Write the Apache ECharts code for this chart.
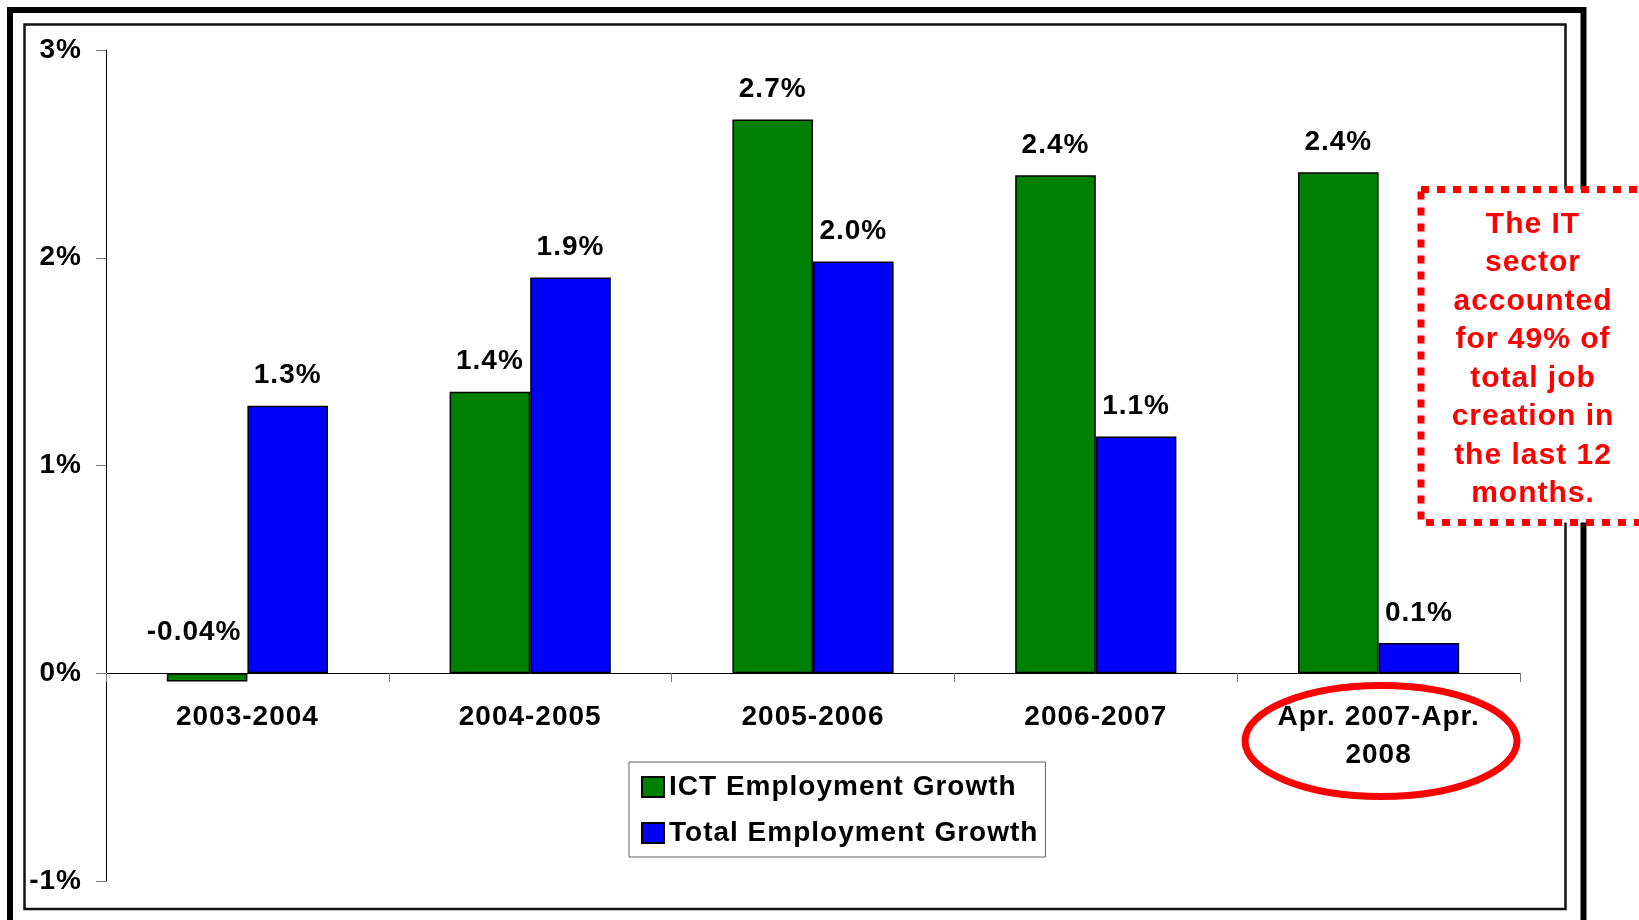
<!DOCTYPE html>
<html>
<head>
<meta charset="utf-8">
<script src="https://cdn.jsdelivr.net/npm/echarts@6/dist/echarts.min.js"></script>
<style>
  html, body { margin: 0; padding: 0; background: #fff; }
  #main { width: 1639px; height: 920px; }
</style>
</head>
<body>
<div id="main"></div>
<script>
var categories = ['2003-2004', '2004-2005', '2005-2006', '2006-2007', 'Apr. 2007-Apr.\n2008'];
var ictGrowth = [-0.04, 1.355, 2.665, 2.397, 2.411];
var totalGrowth = [1.288, 1.905, 1.982, 1.139, 0.146];
var ictLabels = ['-0.04%', '1.4%', '2.7%', '2.4%', '2.4%'];
var totalLabels = ['1.3%', '1.9%', '2.0%', '1.1%', '0.1%'];
var noteLines = ['The IT', 'sector', 'accounted', 'for 49% of', 'total job', 'creation in', 'the last 12', 'months.'];

var FONT = '"Liberation Sans", Arial, sans-serif';

// 原图文字有一点字间距
(function () {
    var proto = CanvasRenderingContext2D.prototype;
    var fillText = proto.fillText;
    proto.fillText = function () {
        if ('letterSpacing' in this) { this.letterSpacing = '1px'; }
        return fillText.apply(this, arguments);
    };
})();

var myChart = echarts.init(document.getElementById('main'));

// 柱子数据，带标签文字
function barData(values, labels) {
    return values.map(function (v, i) {
        var item = { value: v, labelText: labels[i] };
        if (v < 0) {
            // 负值标签放在零线上方
            item.label = { position: 'insideBottom', offset: [-13, -19] };
        }
        return item;
    });
}

var barLabel = {
    show: true,
    position: 'top',
    distance: 16,
    color: '#000',
    fontFamily: FONT,
    fontWeight: 'bold',
    fontSize: 28,
    formatter: function (p) { return p.data.labelText; }
};

myChart.setOption({
    backgroundColor: '#fff',
    animation: false,
    grid: { left: 106, right: 119, top: 50, bottom: 39, containLabel: false, outerBoundsMode: 'none' },
    legend: {
        orient: 'vertical',
        left: 629,
        top: 762,
        backgroundColor: '#fff',
        borderColor: '#606060',
        borderWidth: 1,
        padding: [10, 30, 9, 12],
        itemWidth: 22,
        itemHeight: 20,
        itemGap: 16,
        icon: 'rect',
        textStyle: { fontFamily: FONT, fontWeight: 'bold', fontSize: 28, color: '#000', lineHeight: 30 },
        data: ['ICT Employment Growth', 'Total Employment Growth']
    },
    xAxis: {
        type: 'category',
        data: categories,
        // 把x轴整体移到0%的位置
        offset: -208,
        axisLine: { onZero: false, lineStyle: { color: '#000', width: 1 } },
        axisTick: { show: true, length: 9, lineStyle: { color: '#777' } },
        axisLabel: {
            margin: 25, color: '#000', fontFamily: FONT, fontWeight: 'bold',
            fontSize: 28, lineHeight: 38, interval: 0
        }
    },
    yAxis: {
        type: 'value',
        min: -1,
        max: 3,
        interval: 1,
        splitLine: { show: false },
        axisLine: { show: true, lineStyle: { color: '#000', width: 1 } },
        axisTick: { show: true, length: 10, lineStyle: { color: '#777' } },
        axisLabel: {
            margin: 24, color: '#000', fontFamily: FONT, fontWeight: 'bold', fontSize: 28,
            formatter: '{value}%'
        }
    },
    series: [{
        name: 'ICT Employment Growth',
        type: 'bar',
        barGap: '0%',
        barCategoryGap: '43%',
        itemStyle: { color: '#008000', borderColor: '#000', borderWidth: 1.5 },
        label: barLabel,
        data: barData(ictGrowth, ictLabels)
    }, {
        name: 'Total Employment Growth',
        type: 'bar',
        itemStyle: { color: '#0000ff', borderColor: '#000', borderWidth: 1.5 },
        label: barLabel,
        data: barData(totalGrowth, totalLabels)
    }],
    graphic: [
        // 外框和内框
        { type: 'rect', z: 100, silent: true, shape: { x: 10, y: 10, width: 1573.5, height: 930 },
          style: { fill: 'none', stroke: '#000', lineWidth: 6 } },
        { type: 'rect', z: 100, silent: true, shape: { x: 24.5, y: 24.5, width: 1541, height: 884.5 },
          style: { fill: 'none', stroke: '#111', lineWidth: 2.5 } },
        // 红色虚线说明框
        { type: 'rect', z: 110, silent: true, shape: { x: 1421, y: 189.5, width: 224, height: 333 },
          style: { fill: '#fff', stroke: '#ff0000', lineWidth: 7, lineDash: [8, 8] } },
        { type: 'text', z: 111, silent: true, x: 1533, y: 359,
          style: { text: noteLines.join('\n'), fill: '#ff0000', font: 'bold 30px ' + FONT,
                   lineHeight: 38.5, align: 'center', verticalAlign: 'middle' } },
        // 红圈
        { type: 'ellipse', z: 110, silent: true, shape: { cx: 1381, cy: 741, rx: 136, ry: 55.5 },
          style: { fill: 'none', stroke: '#ff0000', lineWidth: 7 } }
    ]
});
</script>
</body>
</html>
